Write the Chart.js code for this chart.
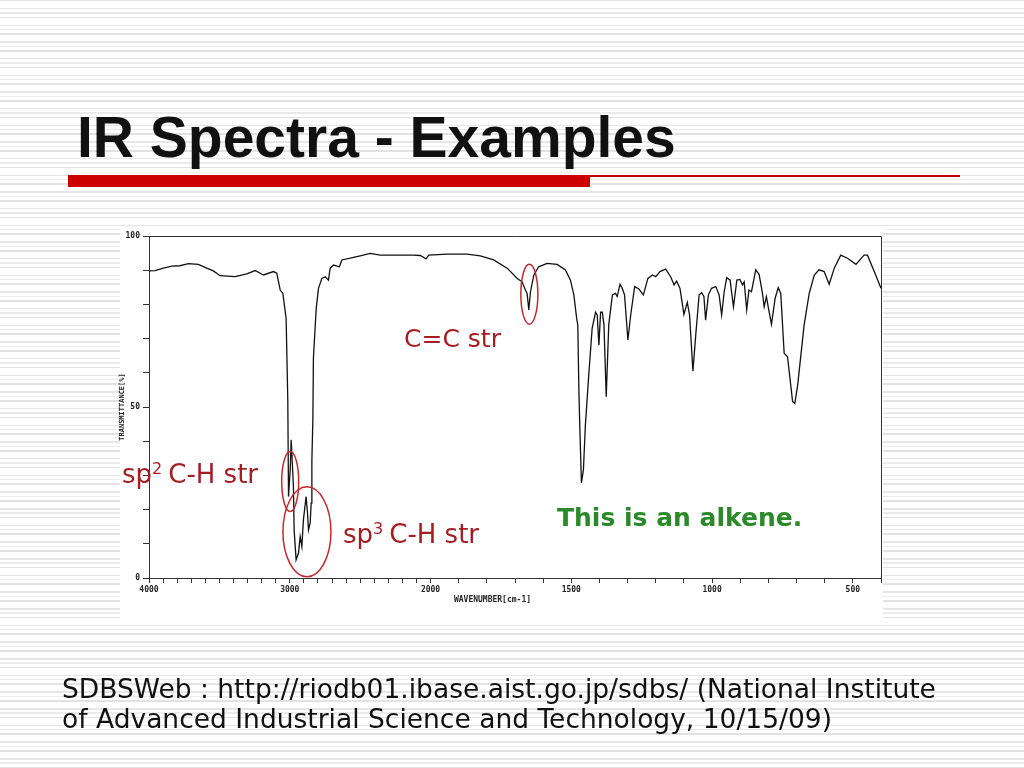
<!DOCTYPE html>
<html>
<head>
<meta charset="utf-8">
<script src="https://cdn.jsdelivr.net/npm/chart.js@4/dist/chart.umd.min.js"></script>
<style>
  html, body { margin: 0; padding: 0; }
  body {
    width: 1024px; height: 768px; position: relative; overflow: hidden;
    background: repeating-linear-gradient(to bottom,
      #e2e2e2 0px, #e2e2e2 1.5px, #ffffff 1.5px, #ffffff 8px,
      #e6e6e6 8px, #e6e6e6 9.4px, #ffffff 9.4px, #ffffff 12.3px,
      #ebebeb 12.3px, #ebebeb 13.6px, #ffffff 13.6px, #ffffff 16.67px);
  }
  #chart { position: absolute; left: 0; top: 0; }
  .abs { position: absolute; white-space: nowrap; }
  #title { left: 77px; top: 109px; font: bold 57px/1 "Liberation Sans", Arial, sans-serif; color: #111; }
  #bar { left: 68px; top: 175px; width: 522px; height: 12px; background: #cc0000; }
  #thin { left: 590px; top: 175px; width: 370px; height: 1.5px; background: #c00000; }
  .ann { font: 25px/1 "DejaVu Sans", Verdana, sans-serif; color: #a51d22; }
  .ann.ch { font-size: 26px; }
  .ann sup { font-size: 16px; vertical-align: 9px; line-height: 0; margin-right: 6px; }
  #alk { font: bold 25px/1 "DejaVu Sans", Verdana, sans-serif; color: #2a8a2a; }
  #foot { left: 62px; top: 674px; font: 26.5px/30px "DejaVu Sans", Verdana, sans-serif; color: #111; }
</style>
</head>
<body>
<canvas id="chart" width="1024" height="768"></canvas>
<div class="abs" id="title">IR Spectra - Examples</div>
<div class="abs" id="bar"></div>
<div class="abs" id="thin"></div>
<div class="abs ann" style="left:404px; top:326px;">C=C str</div>
<div class="abs ann ch" style="left:122px; top:461px;">sp<sup>2</sup>C-H str</div>
<div class="abs ann ch" style="left:343px; top:521px;">sp<sup>3</sup>C-H str</div>
<div class="abs" id="alk" style="left:557px; top:505px;">This is an alkene.</div>
<div class="abs" id="foot">SDBSWeb : http://riodb01.ibase.aist.go.jp/sdbs/ (National Institute<br>of Advanced Industrial Science and Technology, 10/15/09)</div>

<script>
// ---- Data ----
const wavenumbers = [
  4000, 3957, 3898, 3839, 3780, 3720, 3649, 3590, 3543, 3495,
  3388, 3305, 3246, 3187, 3116, 3092, 3068, 3049, 3026, 3014,
  3009, 2997, 2990, 2983, 2974, 2969, 2955, 2938, 2926, 2914,
  2903, 2884, 2874, 2867, 2855, 2848, 2843, 2836, 2832, 2812,
  2796, 2772, 2748, 2725, 2713, 2689, 2647, 2630, 2571, 2500,
  2429, 2357, 2239, 2121, 2073, 2032, 2013, 1941, 1870, 1823,
  1776, 1728, 1692, 1675, 1663, 1657, 1651, 1645, 1633, 1616,
  1586, 1550, 1521, 1503, 1491, 1481, 1477, 1473, 1470, 1464,
  1457, 1450, 1438, 1426, 1414, 1408, 1402, 1396, 1390, 1384,
  1376, 1367, 1354, 1343, 1337, 1327, 1319, 1311, 1299, 1289,
  1275, 1260, 1244, 1228, 1212, 1200, 1185, 1165, 1147, 1135,
  1126, 1114, 1100, 1088, 1080, 1068, 1058, 1046, 1037, 1029,
  1023, 1013, 1002, 987, 975, 966, 957, 948, 936, 924,
  912, 901, 892, 886, 877, 869, 860, 845, 833, 821,
  815, 807, 800, 789, 776, 765, 756, 744, 732, 714,
  706, 696, 673, 655, 637, 620, 602, 584, 566, 543,
  519, 489, 460, 448, 424, 400
];
const transmittance = [
  89.8, 89.9, 90.6, 91.2, 91.3, 91.9, 91.7, 90.6, 89.8, 88.4,
  88.1, 88.9, 89.9, 88.6, 89.6, 89.1, 84.2, 83.2, 75.9, 52.0,
  23.8, 31.6, 40.4, 34.5, 26.7, 14.0, 5.3, 7.3, 12.1, 9.2,
  17.0, 23.8, 19.0, 14.0, 16.1, 21.9, 34.5, 46.2, 64.3, 78.9,
  84.7, 87.6, 88.1, 87.1, 90.6, 91.5, 91.0, 93.0, 93.5, 94.2,
  94.9, 94.4, 94.4, 94.4, 94.3, 93.3, 94.4, 94.7, 94.7, 94.2,
  93.0, 90.6, 87.6, 86.6, 84.2, 83.2, 78.4, 83.7, 88.6, 91.0,
  92.0, 91.7, 90.1, 87.1, 82.8, 75.9, 74.0, 54.5, 44.7, 27.8,
  31.6, 44.7, 59.4, 73.0, 77.7, 76.9, 68.1, 77.7, 77.7, 74.0,
  53.0, 74.0, 82.8, 83.2, 82.3, 85.9, 84.7, 82.8, 69.6, 76.9,
  85.2, 84.5, 82.8, 87.6, 88.6, 88.1, 89.6, 90.3, 88.1, 85.7,
  86.8, 84.7, 77.1, 80.6, 76.9, 60.5, 71.1, 82.8, 83.4, 82.3,
  75.4, 82.8, 84.7, 85.2, 82.8, 76.9, 83.7, 87.8, 87.1, 79.3,
  87.1, 87.3, 85.7, 86.6, 78.4, 84.2, 83.7, 90.1, 88.8, 83.2,
  79.3, 82.3, 79.0, 74.2, 81.8, 84.9, 83.2, 65.7, 64.7, 51.6,
  51.1, 56.4, 74.0, 83.2, 88.6, 90.1, 89.6, 85.9, 90.6, 94.4,
  93.5, 91.7, 94.4, 94.4, 89.6, 84.7
];
const xTickLabels = [4000, 3000, 2000, 1500, 1000, 500];
const xTickStep = 100;           // small ticks every 100 cm-1
const xRange = [4000, 400];
const yTickLabels = [100, 50, 0];
const yTickStep = 10;
const annotations = [
  { wn: 1649, t: 83.0, rx: 8.5, ry: 30 },   // C=C str
  { wn: 2997, t: 28.2, rx: 8.5, ry: 30 },   // sp2 C-H str
  { wn: 2878, t: 13.5, rx: 24, ry: 45 }     // sp3 C-H str
];

// Spectrometer axis: 4000-2000 compressed by half relative to 2000-400
function toPos(w) { return w >= 2000 ? (4000 - w) / 2 : 1000 + (2000 - w); }
function toWn(p) { return p <= 1000 ? 4000 - 2 * p : 2000 - (p - 1000); }

const xTickValues = [];
for (let w = xRange[0]; w >= xRange[1]; w -= xTickStep) xTickValues.push(w);

const points = wavenumbers.map((w, i) => ({ x: toPos(w), y: transmittance[i] }));

const deco = {
  id: 'deco',
  beforeDraw(chart) {
    const { ctx, chartArea: a } = chart;
    ctx.save();
    ctx.fillStyle = '#ffffff';
    ctx.fillRect(a.left - 29, a.top - 8, a.right - a.left + 31, a.bottom - a.top + 52);
    ctx.restore();
  },
  afterDraw(chart) {
    const { ctx, chartArea: a, scales } = chart;
    ctx.save();
    // frame top and right
    ctx.strokeStyle = '#333';
    ctx.lineWidth = 1;
    ctx.beginPath();
    ctx.moveTo(a.left, a.top + 0.5);
    ctx.lineTo(a.right + 0.5, a.top + 0.5);
    ctx.lineTo(a.right + 0.5, a.bottom);
    ctx.stroke();
    // x axis title
    ctx.fillStyle = '#222';
    ctx.font = 'bold 8px "DejaVu Sans Mono", monospace';
    ctx.textAlign = 'center';
    ctx.textBaseline = 'middle';
    ctx.fillText('WAVENUMBER[cm-1]', scales.x.getPixelForValue(toPos(1780)), a.bottom + 22);
    // red ellipses
    ctx.strokeStyle = '#c3282e';
    ctx.lineWidth = 1.5;
    annotations.forEach(an => {
      const cx = scales.x.getPixelForValue(toPos(an.wn));
      const cy = scales.y.getPixelForValue(an.t);
      ctx.beginPath();
      ctx.ellipse(cx, cy, an.rx, an.ry, 0, 0, Math.PI * 2);
      ctx.stroke();
    });
    ctx.restore();
  }
};

new Chart(document.getElementById('chart'), {
  type: 'line',
  data: {
    datasets: [{
      data: points,
      borderColor: '#111',
      borderWidth: 1.3,
      pointRadius: 0,
      tension: 0,
      fill: false
    }]
  },
  plugins: [deco],
  options: {
    responsive: false,
    animation: false,
    devicePixelRatio: 1,
    parsing: false,
    layout: { padding: { left: 115, top: 236, right: 143, bottom: 0 } },
    plugins: { legend: { display: false }, tooltip: { enabled: false } },
    scales: {
      x: {
        type: 'linear',
        min: toPos(xRange[0]),
        max: toPos(xRange[1]),
        afterBuildTicks: s => { s.ticks = xTickValues.map(w => ({ value: toPos(w) })); },
        afterFit: s => { s.height = 190; },
        grid: { drawOnChartArea: false, drawTicks: true, tickLength: 5, color: '#333' },
        border: { display: true, color: '#333', width: 1 },
        ticks: {
          autoSkip: false, maxRotation: 0, padding: 2,
          color: '#222',
          font: { family: '"DejaVu Sans Mono", monospace', size: 8, weight: 'bold' },
          callback: v => { const w = Math.round(toWn(v)); return xTickLabels.includes(w) ? String(w) : ''; }
        }
      },
      y: {
        min: 0, max: 100,
        afterFit: s => { s.width = 34; },
        grid: { drawOnChartArea: false, drawTicks: true, tickLength: 6, color: '#333' },
        border: { display: true, color: '#333', width: 1 },
        title: {
          display: true, text: 'TRANSMITTANCE[%]', color: '#222',
          font: { family: '"DejaVu Sans Mono", monospace', size: 7, weight: 'bold' },
          padding: { top: 3, bottom: 0 }
        },
        ticks: {
          stepSize: yTickStep, autoSkip: false, padding: 3,
          color: '#222',
          font: { family: '"DejaVu Sans Mono", monospace', size: 8, weight: 'bold' },
          callback: v => yTickLabels.includes(v) ? String(v) : ''
        }
      }
    }
  }
});
</script>
</body>
</html>
